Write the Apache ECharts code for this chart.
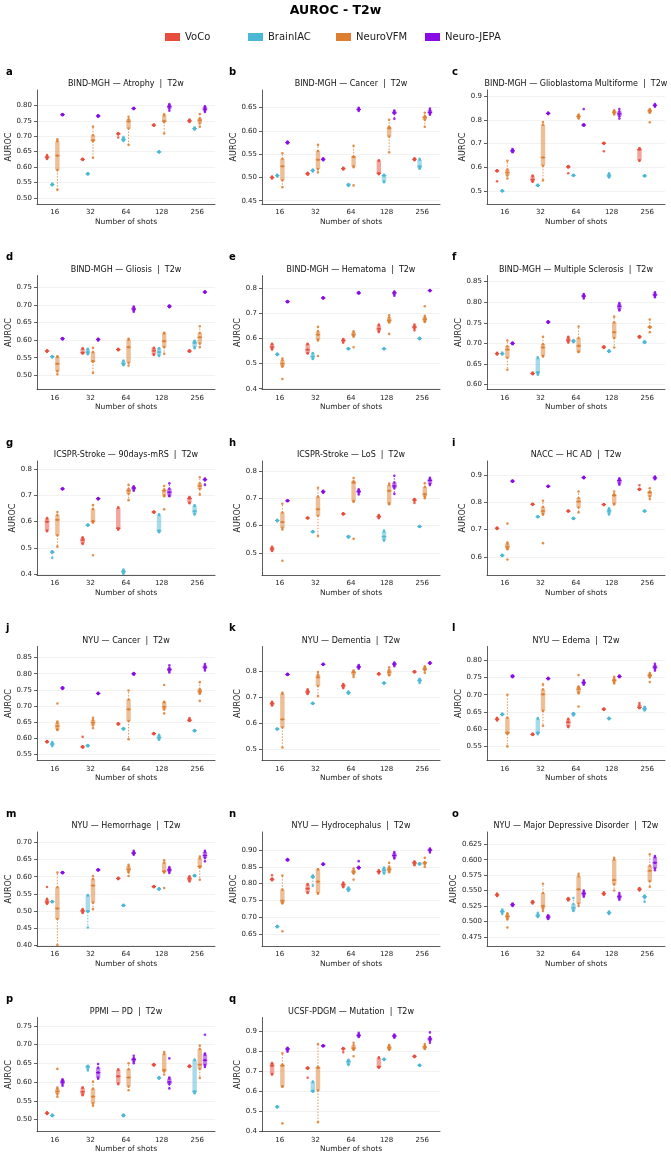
<!DOCTYPE html>
<html>
<head>
<meta charset="utf-8">
<title>AUROC - T2w</title>
<script src="https://cdn.jsdelivr.net/npm/echarts@6/dist/echarts.min.js"></script>
<style>
  html, body { margin: 0; padding: 0; background: #fff; }
  #chart { width: 671px; height: 1160px; }
</style>
</head>
<body>
<div id="chart"></div>
<script>
const models = ['VoCo', 'BrainIAC', 'NeuroVFM', 'Neuro-JEPA'];
const colors = ['#e74c3c', '#4bb8d6', '#dd7e30', '#8a0ae6'];
const shots = ['16', '32', '64', '128', '256'];

// every panel: one row per model (VoCo, BrainIAC, NeuroVFM, Neuro-JEPA),
// one box per shot count, each box is [min, q1, median, q3, max]
const atrophy = [
  [[0.626,0.628,0.632,0.636,0.639],[0.623,0.624,0.625,0.626,0.627],[0.696,0.706,0.708,0.709,0.710],[0.734,0.735,0.736,0.737,0.738],[0.746,0.748,0.750,0.752,0.754]],
  [[0.541,0.542,0.543,0.545,0.546],[0.576,0.577,0.578,0.579,0.580],[0.685,0.686,0.689,0.694,0.697],[0.647,0.648,0.649,0.650,0.651],[0.722,0.723,0.725,0.727,0.728]],
  [[0.526,0.590,0.637,0.684,0.690],[0.630,0.684,0.687,0.703,0.731],[0.672,0.725,0.748,0.755,0.763],[0.709,0.746,0.749,0.767,0.771],[0.731,0.742,0.752,0.758,0.772]],
  [[0.768,0.769,0.770,0.771,0.772],[0.763,0.764,0.766,0.767,0.768],[0.788,0.789,0.790,0.791,0.792],[0.783,0.790,0.796,0.800,0.804],[0.779,0.783,0.788,0.795,0.797]]
];
const atrophyOut = [];
const atrophyTicks = ['0.50','0.55','0.60','0.65','0.70','0.75','0.80'];

const cancer = [
  [[0.498,0.499,0.500,0.501,0.502],[0.506,0.507,0.508,0.509,0.510],[0.517,0.518,0.519,0.520,0.521],[0.507,0.508,0.509,0.536,0.537],[0.537,0.538,0.539,0.540,0.541]],
  [[0.502,0.503,0.504,0.505,0.506],[0.513,0.514,0.515,0.516,0.517],[0.482,0.483,0.484,0.485,0.486],[0.490,0.491,0.504,0.505,0.506],[0.519,0.520,0.524,0.538,0.540]],
  [[0.479,0.494,0.524,0.540,0.552],[0.511,0.518,0.538,0.557,0.570],[0.522,0.524,0.544,0.545,0.568],[0.554,0.588,0.606,0.609,0.624],[0.609,0.624,0.629,0.632,0.639]],
  [[0.573,0.574,0.575,0.576,0.577],[0.537,0.538,0.539,0.540,0.541],[0.643,0.645,0.646,0.648,0.650],[0.626,0.637,0.639,0.642,0.644],[0.635,0.637,0.640,0.645,0.648]]
];
const cancerOut = [['NeuroVFM','64',0.483]];
const cancerTicks = ['0.45','0.50','0.55','0.60','0.65'];

const glioblastoma = [
  [[0.584,0.585,0.586,0.587,0.588],[0.540,0.542,0.549,0.563,0.566],[0.600,0.601,0.603,0.605,0.606],[0.700,0.701,0.702,0.703,0.704],[0.628,0.630,0.675,0.679,0.681]],
  [[0.500,0.501,0.502,0.503,0.504],[0.523,0.524,0.525,0.526,0.527],[0.565,0.566,0.567,0.568,0.569],[0.558,0.560,0.565,0.573,0.576],[0.563,0.564,0.565,0.566,0.567]],
  [[0.554,0.567,0.579,0.591,0.628],[0.546,0.607,0.642,0.779,0.791],[0.805,0.810,0.814,0.818,0.822],[0.822,0.826,0.832,0.836,0.840],[0.830,0.832,0.838,0.842,0.845]],
  [[0.664,0.666,0.670,0.674,0.677],[0.824,0.826,0.827,0.828,0.830],[0.775,0.776,0.778,0.780,0.781],[0.805,0.815,0.825,0.835,0.845],[0.855,0.858,0.861,0.863,0.866]]
];
const glioblastomaOut = [['VoCo','16',0.542],['VoCo','64',0.576],['VoCo','128',0.668],['NeuroVFM','256',0.790],['Neuro-JEPA','64',0.845]];
const glioblastomaTicks = ['0.5','0.6','0.7','0.8','0.9'];

const gliosis = [
  [[0.567,0.568,0.569,0.570,0.571],[0.562,0.563,0.564,0.575,0.577],[0.571,0.572,0.573,0.574,0.575],[0.558,0.560,0.570,0.577,0.578],[0.567,0.568,0.569,0.570,0.571]],
  [[0.551,0.552,0.553,0.554,0.555],[0.560,0.561,0.566,0.574,0.575],[0.529,0.531,0.533,0.539,0.542],[0.555,0.557,0.566,0.576,0.577],[0.577,0.580,0.592,0.597,0.598]],
  [[0.503,0.512,0.533,0.552,0.554],[0.507,0.539,0.540,0.566,0.578],[0.528,0.536,0.580,0.601,0.604],[0.561,0.580,0.597,0.619,0.621],[0.580,0.590,0.608,0.620,0.639]],
  [[0.602,0.603,0.604,0.605,0.606],[0.599,0.600,0.602,0.603,0.604],[0.680,0.684,0.688,0.692,0.695],[0.693,0.694,0.696,0.697,0.698],[0.734,0.735,0.736,0.737,0.738]]
];
const gliosisOut = [];
const gliosisTicks = ['0.50','0.55','0.60','0.65','0.70','0.75'];

const hematoma = [
  [[0.556,0.558,0.566,0.577,0.579],[0.540,0.542,0.555,0.577,0.579],[0.583,0.588,0.592,0.595,0.597],[0.625,0.628,0.638,0.652,0.655],[0.632,0.640,0.645,0.650,0.655]],
  [[0.534,0.535,0.537,0.538,0.540],[0.518,0.520,0.528,0.540,0.542],[0.557,0.558,0.559,0.560,0.561],[0.557,0.558,0.559,0.560,0.561],[0.597,0.598,0.600,0.601,0.602]],
  [[0.488,0.490,0.500,0.513,0.520],[0.592,0.595,0.615,0.628,0.646],[0.607,0.611,0.615,0.624,0.628],[0.663,0.665,0.672,0.683,0.692],[0.665,0.668,0.676,0.684,0.690]],
  [[0.744,0.745,0.746,0.747,0.748],[0.759,0.760,0.761,0.762,0.763],[0.778,0.779,0.781,0.782,0.784],[0.770,0.775,0.781,0.784,0.786],[0.788,0.789,0.790,0.791,0.792]]
];
const hematomaOut = [['NeuroVFM','16',0.439],['NeuroVFM','32',0.530],['NeuroVFM','64',0.565],['NeuroVFM','128',0.618],['NeuroVFM','256',0.728]];
const hematomaTicks = ['0.4','0.5','0.6','0.7','0.8'];

const sclerosis = [
  [[0.673,0.674,0.675,0.676,0.677],[0.625,0.626,0.627,0.628,0.629],[0.702,0.704,0.708,0.714,0.716],[0.689,0.690,0.691,0.692,0.693],[0.714,0.715,0.716,0.717,0.718]],
  [[0.673,0.674,0.675,0.676,0.678],[0.624,0.626,0.630,0.664,0.666],[0.703,0.704,0.706,0.707,0.708],[0.679,0.680,0.681,0.682,0.683],[0.701,0.702,0.703,0.704,0.705]],
  [[0.636,0.665,0.685,0.693,0.707],[0.668,0.670,0.690,0.698,0.716],[0.679,0.680,0.694,0.713,0.741],[0.690,0.713,0.727,0.751,0.765],[0.727,0.738,0.740,0.741,0.758]],
  [[0.698,0.699,0.700,0.701,0.702],[0.750,0.751,0.752,0.753,0.754],[0.809,0.812,0.815,0.818,0.820],[0.780,0.783,0.790,0.795,0.798],[0.812,0.815,0.818,0.821,0.824]]
];
const sclerosisOut = [];
const sclerosisTicks = ['0.60','0.65','0.70','0.75','0.80','0.85'];

const mrs90 = [
  [[0.564,0.566,0.600,0.612,0.614],[0.515,0.518,0.530,0.538,0.541],[0.569,0.572,0.575,0.652,0.655],[0.634,0.636,0.637,0.638,0.639],[0.670,0.673,0.688,0.692,0.694]],
  [[0.462,0.482,0.484,0.486,0.487],[0.585,0.586,0.587,0.588,0.589],[0.402,0.404,0.410,0.415,0.418],[0.560,0.562,0.566,0.625,0.628],[0.627,0.630,0.640,0.660,0.662]],
  [[0.505,0.548,0.607,0.625,0.637],[0.597,0.598,0.602,0.648,0.663],[0.682,0.706,0.718,0.725,0.740],[0.697,0.700,0.718,0.722,0.736],[0.703,0.724,0.736,0.746,0.769]],
  [[0.723,0.724,0.725,0.726,0.727],[0.685,0.686,0.688,0.689,0.690],[0.718,0.722,0.728,0.732,0.735],[0.697,0.700,0.712,0.725,0.746],[0.740,0.758,0.760,0.762,0.764]]
];
const mrs90Out = [['NeuroVFM','32',0.472],['NeuroVFM','128',0.647]];
const mrs90Ticks = ['0.4','0.5','0.6','0.7','0.8'];

const los = [
  [[0.508,0.510,0.515,0.521,0.523],[0.626,0.627,0.628,0.629,0.630],[0.641,0.642,0.643,0.644,0.645],[0.627,0.629,0.633,0.637,0.639],[0.683,0.690,0.694,0.696,0.697]],
  [[0.616,0.617,0.619,0.620,0.621],[0.576,0.577,0.578,0.579,0.580],[0.557,0.558,0.560,0.561,0.562],[0.545,0.548,0.560,0.578,0.582],[0.595,0.596,0.597,0.598,0.599]],
  [[0.586,0.592,0.613,0.648,0.680],[0.562,0.636,0.660,0.706,0.738],[0.687,0.690,0.757,0.762,0.774],[0.678,0.682,0.727,0.748,0.754],[0.700,0.706,0.715,0.741,0.755]],
  [[0.689,0.690,0.691,0.692,0.693],[0.720,0.722,0.724,0.726,0.727],[0.714,0.720,0.725,0.728,0.733],[0.716,0.737,0.745,0.757,0.782],[0.748,0.752,0.765,0.771,0.775]]
];
const losOut = [['NeuroVFM','16',0.472],['NeuroVFM','64',0.552]];
const losTicks = ['0.5','0.6','0.7','0.8'];

const hcad = [
  [[0.702,0.703,0.705,0.706,0.707],[0.791,0.792,0.793,0.794,0.795],[0.766,0.767,0.768,0.769,0.770],[0.790,0.791,0.792,0.793,0.794],[0.846,0.847,0.848,0.849,0.850]],
  [[0.603,0.604,0.605,0.606,0.607],[0.745,0.746,0.747,0.748,0.749],[0.739,0.740,0.741,0.742,0.743],[0.755,0.760,0.768,0.775,0.778],[0.766,0.767,0.768,0.769,0.770]],
  [[0.628,0.630,0.637,0.648,0.652],[0.755,0.758,0.768,0.783,0.806],[0.763,0.781,0.803,0.816,0.840],[0.792,0.795,0.825,0.830,0.840],[0.812,0.822,0.836,0.840,0.852]],
  [[0.876,0.877,0.878,0.879,0.880],[0.857,0.858,0.859,0.860,0.861],[0.889,0.890,0.891,0.892,0.894],[0.865,0.870,0.880,0.885,0.888],[0.885,0.888,0.890,0.893,0.895]]
];
const hcadOut = [['VoCo','256',0.863],['NeuroVFM','16',0.722],['NeuroVFM','16',0.590],['NeuroVFM','32',0.650]];
const hcadTicks = ['0.6','0.7','0.8','0.9'];

const nyuCancer = [
  [[0.588,0.589,0.590,0.591,0.592],[0.572,0.573,0.574,0.575,0.576],[0.643,0.644,0.645,0.646,0.647],[0.613,0.614,0.615,0.616,0.617],[0.654,0.655,0.656,0.660,0.663]],
  [[0.577,0.579,0.583,0.587,0.589],[0.576,0.577,0.578,0.579,0.580],[0.628,0.629,0.630,0.631,0.632],[0.596,0.598,0.603,0.609,0.611],[0.622,0.623,0.624,0.625,0.626]],
  [[0.626,0.628,0.638,0.648,0.652],[0.632,0.641,0.649,0.657,0.664],[0.598,0.654,0.690,0.720,0.748],[0.677,0.690,0.698,0.712,0.713],[0.738,0.740,0.746,0.753,0.774]],
  [[0.753,0.754,0.756,0.757,0.758],[0.737,0.738,0.739,0.740,0.741],[0.797,0.798,0.800,0.801,0.802],[0.804,0.808,0.813,0.818,0.826],[0.810,0.815,0.820,0.825,0.830]]
];
const nyuCancerOut = [['VoCo','32',0.605],['NeuroVFM','16',0.708],['NeuroVFM','128',0.765],['NeuroVFM','256',0.716]];
const nyuCancerTicks = ['0.55','0.60','0.65','0.70','0.75','0.80','0.85'];

const dementia = [
  [[0.668,0.670,0.675,0.680,0.682],[0.712,0.715,0.720,0.727,0.730],[0.735,0.738,0.744,0.749,0.751],[0.788,0.789,0.790,0.791,0.792],[0.796,0.797,0.798,0.799,0.800]],
  [[0.575,0.576,0.577,0.578,0.579],[0.674,0.675,0.676,0.677,0.678],[0.713,0.715,0.717,0.720,0.722],[0.752,0.753,0.755,0.756,0.757],[0.755,0.760,0.765,0.769,0.771]],
  [[0.505,0.583,0.614,0.713,0.717],[0.704,0.743,0.777,0.787,0.797],[0.778,0.787,0.796,0.800,0.803],[0.785,0.787,0.797,0.806,0.816],[0.794,0.804,0.809,0.815,0.819]],
  [[0.786,0.787,0.788,0.789,0.790],[0.825,0.826,0.827,0.828,0.829],[0.810,0.813,0.817,0.821,0.824],[0.820,0.824,0.828,0.832,0.834],[0.829,0.830,0.832,0.833,0.835]]
];
const dementiaOut = [];
const dementiaTicks = ['0.5','0.6','0.7','0.8'];

const edema = [
  [[0.625,0.627,0.629,0.631,0.633],[0.583,0.584,0.585,0.586,0.587],[0.606,0.608,0.620,0.628,0.630],[0.656,0.657,0.658,0.659,0.660],[0.661,0.662,0.663,0.670,0.676]],
  [[0.641,0.642,0.643,0.644,0.645],[0.585,0.587,0.590,0.630,0.632],[0.640,0.642,0.644,0.646,0.647],[0.629,0.630,0.631,0.632,0.633],[0.654,0.656,0.659,0.663,0.665]],
  [[0.550,0.586,0.590,0.633,0.700],[0.610,0.653,0.701,0.715,0.730],[0.704,0.707,0.716,0.722,0.724],[0.733,0.737,0.742,0.746,0.752],[0.750,0.752,0.756,0.760,0.763]],
  [[0.751,0.752,0.754,0.755,0.756],[0.745,0.746,0.747,0.748,0.749],[0.729,0.732,0.735,0.738,0.742],[0.751,0.752,0.753,0.754,0.756],[0.770,0.775,0.780,0.785,0.790]]
];
const edemaOut = [['NeuroVFM','64',0.757],['NeuroVFM','64',0.666],['NeuroVFM','256',0.737]];
const edemaTicks = ['0.55','0.60','0.65','0.70','0.75','0.80'];

const hemorrhage = [
  [[0.521,0.522,0.526,0.533,0.535],[0.494,0.496,0.500,0.503,0.505],[0.593,0.594,0.595,0.596,0.597],[0.569,0.570,0.571,0.572,0.573],[0.586,0.588,0.594,0.599,0.601]],
  [[0.525,0.526,0.527,0.528,0.529],[0.451,0.497,0.499,0.545,0.546],[0.514,0.515,0.516,0.517,0.518],[0.562,0.563,0.564,0.565,0.566],[0.601,0.602,0.603,0.604,0.605]],
  [[0.400,0.476,0.507,0.569,0.612],[0.505,0.524,0.574,0.593,0.602],[0.612,0.616,0.622,0.630,0.635],[0.612,0.614,0.616,0.641,0.648],[0.591,0.627,0.630,0.654,0.659]],
  [[0.610,0.611,0.612,0.613,0.614],[0.618,0.619,0.620,0.621,0.622],[0.664,0.667,0.669,0.672,0.676],[0.611,0.615,0.620,0.624,0.628],[0.645,0.655,0.662,0.672,0.676]]
];
const hemorrhageOut = [['VoCo','16',0.570],['NeuroVFM','64',0.602],['NeuroVFM','128',0.567]];
const hemorrhageTicks = ['0.40','0.45','0.50','0.55','0.60','0.65','0.70'];

const hydrocephalus = [
  [[0.810,0.811,0.813,0.815,0.825],[0.772,0.774,0.785,0.797,0.799],[0.789,0.791,0.797,0.801,0.803],[0.831,0.833,0.836,0.838,0.840],[0.855,0.858,0.862,0.865,0.866]],
  [[0.670,0.671,0.672,0.673,0.674],[0.794,0.818,0.820,0.823,0.824],[0.778,0.780,0.783,0.787,0.788],[0.830,0.832,0.840,0.846,0.848],[0.857,0.858,0.859,0.860,0.861]],
  [[0.741,0.743,0.749,0.782,0.824],[0.770,0.772,0.806,0.842,0.843],[0.830,0.832,0.835,0.840,0.845],[0.834,0.837,0.843,0.850,0.862],[0.850,0.858,0.862,0.864,0.877]],
  [[0.869,0.870,0.871,0.872,0.873],[0.856,0.857,0.858,0.859,0.860],[0.845,0.846,0.848,0.849,0.850],[0.875,0.878,0.884,0.890,0.894],[0.893,0.897,0.900,0.903,0.905]]
];
const hydrocephalusOut = [['NeuroVFM','16',0.658],['NeuroVFM','64',0.812],['Neuro-JEPA','64',0.867]];
const hydrocephalusTicks = ['0.65','0.70','0.75','0.80','0.85','0.90'];

const depression = [
  [[0.541,0.542,0.543,0.544,0.545],[0.529,0.530,0.531,0.532,0.533],[0.534,0.535,0.536,0.537,0.538],[0.543,0.544,0.545,0.546,0.547],[0.550,0.551,0.552,0.553,0.554]],
  [[0.512,0.514,0.516,0.518,0.519],[0.507,0.508,0.509,0.512,0.514],[0.517,0.518,0.522,0.528,0.538],[0.512,0.513,0.514,0.515,0.516],[0.532,0.538,0.540,0.541,0.542]],
  [[0.503,0.505,0.508,0.511,0.513],[0.517,0.521,0.525,0.546,0.561],[0.525,0.529,0.552,0.573,0.577],[0.550,0.560,0.567,0.600,0.603],[0.556,0.565,0.582,0.590,0.609]],
  [[0.525,0.526,0.527,0.528,0.529],[0.504,0.505,0.507,0.509,0.510],[0.540,0.542,0.545,0.548,0.550],[0.535,0.537,0.540,0.543,0.546],[0.583,0.586,0.595,0.604,0.606]]
];
const depressionOut = [['NeuroVFM','16',0.490]];
const depressionTicks = ['0.475','0.500','0.525','0.550','0.575','0.600','0.625'];

const ppmi = [
  [[0.515,0.516,0.517,0.518,0.519],[0.565,0.567,0.574,0.584,0.586],[0.594,0.596,0.615,0.632,0.634],[0.644,0.645,0.646,0.647,0.648],[0.640,0.641,0.642,0.643,0.644]],
  [[0.509,0.510,0.511,0.512,0.513],[0.631,0.636,0.641,0.642,0.643],[0.509,0.510,0.511,0.512,0.513],[0.609,0.610,0.611,0.612,0.613],[0.570,0.572,0.575,0.658,0.660]],
  [[0.561,0.568,0.575,0.582,0.585],[0.537,0.543,0.561,0.582,0.601],[0.578,0.588,0.612,0.634,0.650],[0.620,0.628,0.632,0.675,0.680],[0.611,0.635,0.646,0.688,0.697]],
  [[0.590,0.595,0.600,0.605,0.607],[0.609,0.612,0.625,0.638,0.648],[0.650,0.655,0.660,0.664,0.670],[0.583,0.594,0.600,0.609,0.612],[0.640,0.645,0.658,0.673,0.676]]
];
const ppmiOut = [['NeuroVFM','16',0.635],['Neuro-JEPA','128',0.663],['Neuro-JEPA','256',0.726]];
const ppmiTicks = ['0.50','0.55','0.60','0.65','0.70','0.75'];

const mutation = [
  [[0.683,0.686,0.728,0.739,0.741],[0.712,0.714,0.716,0.717,0.718],[0.795,0.810,0.813,0.815,0.817],[0.718,0.720,0.722,0.766,0.770],[0.771,0.773,0.775,0.776,0.777]],
  [[0.518,0.520,0.521,0.523,0.524],[0.597,0.599,0.601,0.645,0.648],[0.732,0.735,0.748,0.755,0.758],[0.757,0.758,0.760,0.761,0.762],[0.728,0.729,0.730,0.731,0.732]],
  [[0.622,0.624,0.728,0.733,0.790],[0.444,0.603,0.717,0.722,0.836],[0.808,0.810,0.816,0.830,0.843],[0.808,0.810,0.818,0.828,0.832],[0.812,0.815,0.822,0.828,0.837]],
  [[0.798,0.805,0.812,0.815,0.818],[0.825,0.826,0.828,0.829,0.830],[0.872,0.875,0.880,0.885,0.893],[0.868,0.872,0.877,0.881,0.884],[0.843,0.853,0.862,0.868,0.872]]
];
const mutationOut = [['VoCo','32',0.667],['NeuroVFM','16',0.438],['NeuroVFM','64',0.775],['Neuro-JEPA','256',0.895]];
const mutationTicks = ['0.4','0.5','0.6','0.7','0.8','0.9'];

const panels = [
  { key: 'a', title: 'BIND-MGH — Atrophy  |  T2w', boxes: atrophy, out: atrophyOut, ticks: atrophyTicks, yMin: 0.48, yMax: 0.85 },
  { key: 'b', title: 'BIND-MGH — Cancer  |  T2w', boxes: cancer, out: cancerOut, ticks: cancerTicks, yMin: 0.443, yMax: 0.688 },
  { key: 'c', title: 'BIND-MGH — Glioblastoma Multiforme  |  T2w', boxes: glioblastoma, out: glioblastomaOut, ticks: glioblastomaTicks, yMin: 0.447, yMax: 0.925 },
  { key: 'd', title: 'BIND-MGH — Gliosis  |  T2w', boxes: gliosis, out: gliosisOut, ticks: gliosisTicks, yMin: 0.46, yMax: 0.783 },
  { key: 'e', title: 'BIND-MGH — Hematoma  |  T2w', boxes: hematoma, out: hematomaOut, ticks: hematomaTicks, yMin: 0.397, yMax: 0.85 },
  { key: 'f', title: 'BIND-MGH — Multiple Sclerosis  |  T2w', boxes: sclerosis, out: sclerosisOut, ticks: sclerosisTicks, yMin: 0.588, yMax: 0.865 },
  { key: 'g', title: 'ICSPR-Stroke — 90days-mRS  |  T2w', boxes: mrs90, out: mrs90Out, ticks: mrs90Ticks, yMin: 0.397, yMax: 0.831 },
  { key: 'h', title: 'ICSPR-Stroke — LoS  |  T2w', boxes: los, out: losOut, ticks: losTicks, yMin: 0.42, yMax: 0.836 },
  { key: 'i', title: 'NACC — HC AD  |  T2w', boxes: hcad, out: hcadOut, ticks: hcadTicks, yMin: 0.533, yMax: 0.952 },
  { key: 'j', title: 'NYU — Cancer  |  T2w', boxes: nyuCancer, out: nyuCancerOut, ticks: nyuCancerTicks, yMin: 0.532, yMax: 0.884 },
  { key: 'k', title: 'NYU — Dementia  |  T2w', boxes: dementia, out: dementiaOut, ticks: dementiaTicks, yMin: 0.455, yMax: 0.896 },
  { key: 'l', title: 'NYU — Edema  |  T2w', boxes: edema, out: edemaOut, ticks: edemaTicks, yMin: 0.509, yMax: 0.84 },
  { key: 'm', title: 'NYU — Hemorrhage  |  T2w', boxes: hemorrhage, out: hemorrhageOut, ticks: hemorrhageTicks, yMin: 0.397, yMax: 0.731 },
  { key: 'n', title: 'NYU — Hydrocephalus  |  T2w', boxes: hydrocephalus, out: hydrocephalusOut, ticks: hydrocephalusTicks, yMin: 0.614, yMax: 0.954 },
  { key: 'o', title: 'NYU — Major Depressive Disorder  |  T2w', boxes: depression, out: depressionOut, ticks: depressionTicks, yMin: 0.46, yMax: 0.645 },
  { key: 'p', title: 'PPMI — PD  |  T2w', boxes: ppmi, out: ppmiOut, ticks: ppmiTicks, yMin: 0.468, yMax: 0.772 },
  { key: 'q', title: 'UCSF-PDGM — Mutation  |  T2w', boxes: mutation, out: mutationOut, ticks: mutationTicks, yMin: 0.397, yMax: 0.97 }
];

// layout
const colLeft = [37, 262, 487];
const letterLeft = [6, 229, 452];
const plotW = 178, plotH = 114, rowTop = 90, rowStep = 185.5;
const legendLeft = [165, 248, 336, 425];
const font = 'DejaVu Sans';

// box + whiskers + the five summary points, offset per model inside the shot band
const renderBox = mi => (params, api) => {
  const cat = api.value(0);
  const band = api.size([1, 0])[0];
  const cx = api.coord([cat, 0])[0] + (mi - 1.5) * band * 0.145;
  const hw = band * 0.062;
  const ys = [1, 2, 3, 4, 5].map(i => api.coord([cat, api.value(i)])[1]);
  const c = colors[mi];
  const children = [
    { type: 'line', shape: { x1: cx, y1: ys[1], x2: cx, y2: ys[0] }, style: { stroke: c, lineWidth: 0.8, lineDash: [1.5, 1.5] } },
    { type: 'line', shape: { x1: cx, y1: ys[3], x2: cx, y2: ys[4] }, style: { stroke: c, lineWidth: 0.8, lineDash: [1.5, 1.5] } },
    { type: 'rect', shape: { x: cx - hw, y: ys[3], width: hw * 2, height: Math.max(ys[1] - ys[3], 0.8) }, style: { fill: c, opacity: 0.5 } },
    { type: 'line', shape: { x1: cx - hw, y1: ys[2], x2: cx + hw, y2: ys[2] }, style: { stroke: c, lineWidth: 1.1 } }
  ];
  ys.forEach(y => children.push({ type: 'circle', shape: { cx, cy: y, r: 1.3 }, style: { fill: c, opacity: 0.85 } }));
  return { type: 'group', children };
};

const renderPoint = (params, api) => {
  const cat = api.value(0);
  const mi = api.value(2);
  const band = api.size([1, 0])[0];
  const cx = api.coord([cat, 0])[0] + (mi - 1.5) * band * 0.145;
  const cy = api.coord([cat, api.value(1)])[1];
  return { type: 'circle', shape: { cx, cy, r: 1.3 }, style: { fill: colors[mi], opacity: 0.85 } };
};

const option = {
  animation: false,
  backgroundColor: '#fff',
  textStyle: { fontFamily: font },
  title: [{
    text: 'AUROC - T2w', left: 'center', top: 4, padding: 0,
    textStyle: { fontFamily: font, fontSize: 12.5, fontWeight: 'bold', color: '#000' }
  }],
  legend: models.map((m, i) => ({
    data: [m], left: legendLeft[i], top: 32, padding: 0, icon: 'rect',
    itemWidth: 15, itemHeight: 8, itemGap: 5, selectedMode: false,
    textStyle: { fontFamily: font, fontSize: 10, color: '#222' }
  })),
  grid: [], xAxis: [], yAxis: [], series: []
};

panels.forEach((p, k) => {
  const col = k % 3, row = Math.floor(k / 3);
  const left = colLeft[col], top = rowTop + row * rowStep;
  const decimals = p.ticks[0].split('.')[1].length;
  const tickValues = p.ticks.map(Number);

  option.grid.push({ left, top, width: plotW, height: plotH });
  option.title.push({
    text: p.title, left: left + plotW / 2, textAlign: 'center', top: top - 10, padding: 0,
    textStyle: { fontFamily: font, fontSize: 8, fontWeight: 'normal', color: '#111' }
  });
  option.title.push({
    text: p.key, left: letterLeft[col], top: top - 23, padding: 0,
    textStyle: { fontFamily: font, fontSize: 10, fontWeight: 'bold', color: '#000' }
  });
  option.xAxis.push({
    type: 'category', gridIndex: k, data: shots,
    name: 'Number of shots', nameLocation: 'middle', nameGap: 14,
    nameTextStyle: { fontFamily: font, fontSize: 7.5, color: '#222' },
    axisLine: { lineStyle: { color: '#333', width: 0.8 } },
    axisTick: { alignWithLabel: true, length: 3, lineStyle: { color: '#333', width: 0.8 } },
    axisLabel: { fontFamily: font, fontSize: 7, color: '#222', margin: 5 },
    splitLine: { show: false }
  });
  option.yAxis.push({
    type: 'value', gridIndex: k, min: p.yMin, max: p.yMax,
    name: 'AUROC', nameLocation: 'middle', nameGap: 20,
    nameTextStyle: { fontFamily: font, fontSize: 8, color: '#222' },
    axisLine: { show: true, lineStyle: { color: '#333', width: 0.8 } },
    axisTick: { show: true, length: 3, customValues: tickValues, lineStyle: { color: '#333', width: 0.8 } },
    axisLabel: { fontFamily: font, fontSize: 7, color: '#222', margin: 5, customValues: tickValues,
      formatter: v => v.toFixed(decimals) },
    splitLine: { show: true, lineStyle: { color: '#ececec', width: 0.7 } }
  });
  models.forEach((m, mi) => {
    option.series.push({
      type: 'custom', name: m, xAxisIndex: k, yAxisIndex: k,
      itemStyle: { color: colors[mi] },
      dimensions: ['shot', 'min', 'q1', 'median', 'q3', 'max'],
      encode: { x: 0, y: [1, 2, 3, 4, 5] },
      renderItem: renderBox(mi),
      data: p.boxes[mi].map((b, i) => [i].concat(b))
    });
  });
  option.series.push({
    type: 'custom', xAxisIndex: k, yAxisIndex: k,
    dimensions: ['shot', 'value', 'model'],
    encode: { x: 0, y: 1 },
    renderItem: renderPoint,
    data: p.out.map(o => [shots.indexOf(o[1]), o[2], models.indexOf(o[0])])
  });
});

const chart = echarts.init(document.getElementById('chart'), null, { renderer: 'canvas' });
chart.setOption(option);
window.addEventListener('resize', () => chart.resize());
</script>
</body>
</html>
